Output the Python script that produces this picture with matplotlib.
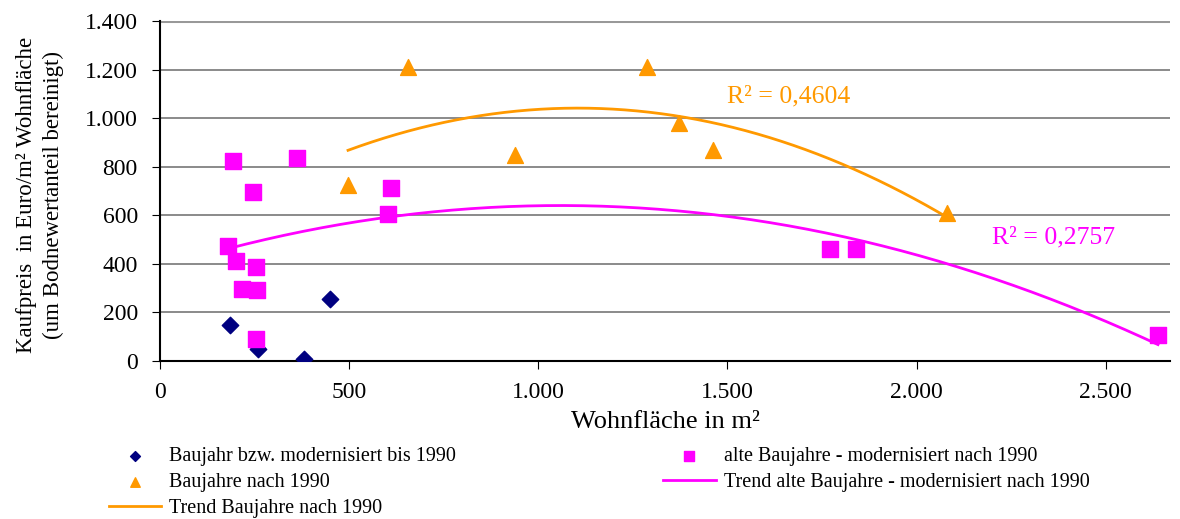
import numpy as np
import matplotlib
matplotlib.use("Agg")
import matplotlib.pyplot as plt
from matplotlib.ticker import FuncFormatter

plt.rcParams['font.family'] = ['Liberation Serif', 'DejaVu Serif']

# Baujahr bzw. modernisiert bis 1990
bis_x = [185, 259, 381, 450]
bis_y = [148, 50, 10, 255]

# alte Baujahre - modernisiert nach 1990
alt_x = [193, 246, 362, 180, 201, 254, 217, 257, 254, 603, 611, 1770, 1839, 2638]
alt_y = [823, 696, 836, 473, 412, 387, 296, 292, 91, 605, 712, 461, 461, 107]

# Baujahre nach 1990
neu_x = [656, 1286, 1371, 1461, 939, 497, 2080]
neu_y = [1210, 1210, 980, 870, 848, 725, 608]

x_ticks = [0, 500, 1000, 1500, 2000, 2500]
y_ticks = [0, 200, 400, 600, 800, 1000, 1200, 1400]

navy = '#000080'
magenta = '#FF00FF'
orange = '#FF9900'


def de_fmt(v, pos):
    return f"{int(v):,}".replace(",", ".")


fig = plt.figure(figsize=(11.8, 5.19), dpi=100)
ax = fig.add_axes([0.1356, 0.3044, 0.856, 0.655])

for y in y_ticks[1:]:
    ax.axhline(y, color='#777777' if y < 1400 else '#999999', lw=1.2 if y < 1400 else 2.2, zorder=1)

ax.scatter(bis_x, bis_y, marker='D', s=70, color=navy, zorder=3,
           label='Baujahr bzw. modernisiert bis 1990')
ax.scatter(alt_x, alt_y, marker='s', s=125, color=magenta, zorder=3,
           label='alte Baujahre - modernisiert nach 1990')
ax.scatter(neu_x, neu_y, marker='^', s=130, color=orange, zorder=3,
           label='Baujahre nach 1990')

# polynomial trend lines (order 2), like the spreadsheet
p_alt = np.polyfit(alt_x, alt_y, 2)
xa = np.linspace(min(alt_x), max(alt_x), 200)
ax.plot(xa, np.polyval(p_alt, xa), color=magenta, lw=2, zorder=2,
        label='Trend alte Baujahre - modernisiert nach 1990')
p_neu = np.polyfit(neu_x, neu_y, 2)
xn = np.linspace(min(neu_x), max(neu_x), 200)
ax.plot(xn, np.polyval(p_neu, xn), color=orange, lw=2, zorder=2,
        label='Trend Baujahre nach 1990')

ax.text(1500, 1090, 'R² = 0,4604', color=orange, fontsize=18.5, ha='left', va='center')
ax.text(2200, 510, 'R² = 0,2757', color=magenta, fontsize=18.5, ha='left', va='center')

ax.set_xlim(0, 2670)
ax.set_ylim(0, 1400)
ax.set_xticks(x_ticks)
ax.set_yticks(y_ticks)
ax.xaxis.set_major_formatter(FuncFormatter(de_fmt))
ax.yaxis.set_major_formatter(FuncFormatter(de_fmt))
ax.tick_params(labelsize=17, length=6, color='black')
ax.tick_params(axis='x', pad=9)
ax.tick_params(axis='y', pad=10)
for s in ['top', 'right']:
    ax.spines[s].set_visible(False)
for s in ['left', 'bottom']:
    ax.spines[s].set_linewidth(1.5)

ax.set_xlabel('Wohnfläche in m²', fontsize=19, labelpad=6)
fig.text(40 / 1180, 0.624, 'Kaufpreis  in Euro/m² Wohnfläche\n(um Bodnewertanteil bereinigt)',
         rotation=90, ha='center', va='center', fontsize=16.5, linespacing=1.35)

h, l = ax.get_legend_handles_labels()
order = [0, 2, 4, 1, 3]
fig.legend([h[i] for i in order], [l[i] for i in order], ncol=2,
           loc='upper left', bbox_to_anchor=(0.092, 0.138), frameon=False,
           fontsize=14.5, columnspacing=10.3, handlelength=2.6, handletextpad=0.4,
           labelspacing=0.32, markerscale=0.6, borderaxespad=0, borderpad=0)

fig.savefig('out.png', dpi=100)
